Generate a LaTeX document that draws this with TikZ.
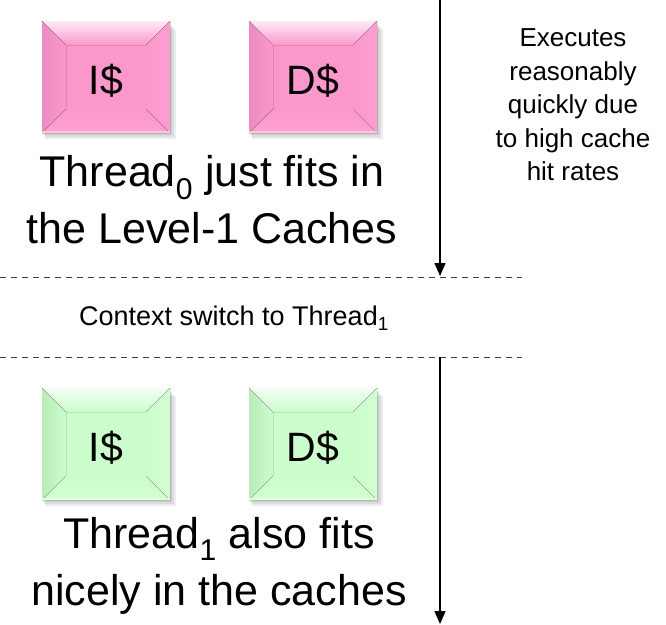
\documentclass[tikz,border=0pt]{standalone}
\usepackage{fontspec}
\setmainfont{Liberation Sans}
\usetikzlibrary{arrows.meta,calc}
\begin{document}
\begin{tikzpicture}[x=1pt,y=-1pt,
  conn/.style={draw=black,line width=1.5pt,-{Triangle[length=13pt,width=11pt]}},
  sep/.style={draw=black!75,line width=0.9pt,dash pattern=on 6pt off 5pt},
  label/.style={font=\fontsize{41}{48}\selectfont,inner sep=0pt},
  big/.style={font=\fontsize{43}{57}\selectfont,align=center,inner sep=0pt},
  side/.style={font=\fontsize{26}{33.5}\selectfont,align=center,inner sep=0pt},
  note/.style={font=\fontsize{27}{30}\selectfont,inner sep=0pt}]
\useasboundingbox (0,0) rectangle (666,624);
\fill[white] (0,0) rectangle (666,624);

% bevelled cache block: #1 = name, #2 = centre, #3 = text, #4 = colour prefix
\newcommand{\cacheblock}[4]{%
  \begin{scope}[shift={#2}]
    % soft drop shadow
    \foreach \s in {6,4,2}
      \fill[black,opacity=0.07] (-64+\s/2,-54+\s) rectangle (64+\s,56+\s);
    \fill[#4base] (-64,-56) rectangle (64,56);
    \fill[top color=white!80!#4base,bottom color=#4base] (-64,-56) -- (64,-56) -- (40,-32) -- (-40,-32) -- cycle;
    \fill[left color=#4dark,right color=#4base] (-64,-56) -- (-40,-32) -- (-40,32) -- (-64,56) -- cycle;
    \fill[left color=#4base,right color=#4light] (64,-56) -- (40,-32) -- (40,32) -- (64,56) -- cycle;
    \fill[top color=#4base,bottom color=#4bot] (-64,56) -- (-40,32) -- (40,32) -- (64,56) -- cycle;
    \fill[#4bot!60!white] (-64,54) rectangle (64,56);
    \node[label] (#1) at (0,4) {#3};
  \end{scope}}

\definecolor{pkbase}{RGB}{250,152,203}
\definecolor{pkdark}{RGB}{236,140,190}
\definecolor{pklight}{RGB}{254,158,208}
\definecolor{pkbot}{RGB}{253,160,209}
\definecolor{gnbase}{RGB}{204,253,204}
\definecolor{gndark}{RGB}{186,236,186}
\definecolor{gnlight}{RGB}{210,255,210}
\definecolor{gnbot}{RGB}{209,255,209}

\cacheblock{ic0}{(106,77)}{I\$}{pk}
\cacheblock{dc0}{(313,77)}{D\$}{pk}
\cacheblock{ic1}{(106,444)}{I\$}{gn}
\cacheblock{dc1}{(313,444)}{D\$}{gn}

\node[big] (t0) at (212,200) {Thread\textsubscript{0} just fits in\\the Level-1 Caches};
\node[big] (t1) at (219,566) {Thread\textsubscript{1} also fits\\nicely in the caches};
\node[side] (why) at (573,105) {Executes\\reasonably\\quickly due\\to high cache\\hit rates};
\node[note] (ctx) at (234,318) {Context switch to Thread\textsubscript{1}};

\coordinate (s0a) at (0,277);
\coordinate (s0b) at (522,277);
\coordinate (s1a) at (0,357);
\coordinate (s1b) at (522,357);
\draw[sep] (s0a) -- (s0b);
\draw[sep] (s1a) -- (s1b);

\coordinate (a0) at (440,0);
\coordinate (a0e) at (440,276);
\coordinate (a1) at (440,357);
\coordinate (a1e) at (440,624);
\draw[conn] (a0) -- (a0e);
\draw[conn] (a1) -- (a1e);
\end{tikzpicture}
\end{document}
